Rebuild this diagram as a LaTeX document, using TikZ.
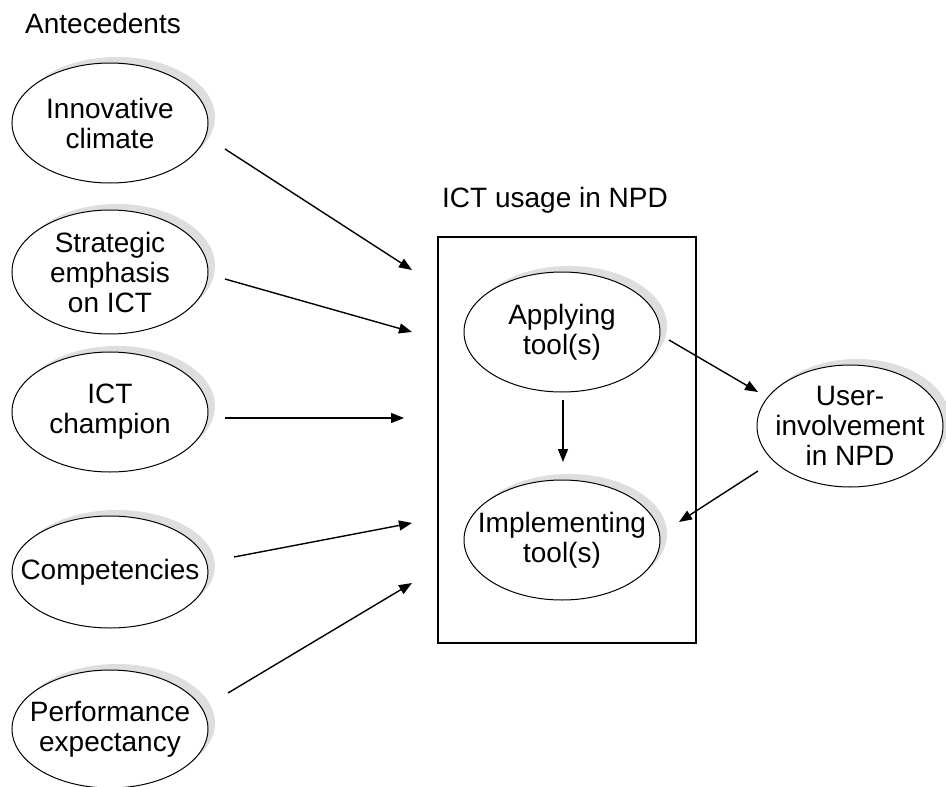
\documentclass[tikz,border=0pt]{standalone}
\usepackage{fontspec}
\setmainfont{Liberation Sans}
\usetikzlibrary{shapes.geometric,shadows,arrows.meta}
\begin{document}
\begin{tikzpicture}[x=1pt,y=-1pt,
  oval/.style={ellipse, draw, line width=1pt, fill=white, inner xsep=-70pt, inner ysep=-20pt,
    minimum width=196pt, minimum height=120pt, align=center,
    font=\fontsize{28}{30}\selectfont,
    drop shadow={shadow xshift=7pt, shadow yshift=6pt, fill=black!13, opacity=1}},
  lbl/.style={anchor=base west, inner sep=0pt, font=\fontsize{28}{30}\selectfont},
  arr/.style={line width=1.4pt, -{Triangle[length=13pt,width=10pt]}},
  frame/.style={draw, line width=1.3pt, inner sep=0pt}]
\useasboundingbox (0,0) rectangle (946,787);

\node[lbl] (ante) at (25,33) {Antecedents};
\node[lbl] (usage) at (442,207) {ICT usage in NPD};

\node[frame, minimum width=258pt, minimum height=406pt] (box) at (567,440) {};

\node[oval] (inn) at (110,123) {Innovative\\climate};
\node[oval, minimum height=124pt] (str) at (110,272) {Strategic\\emphasis\\on ICT};
\node[oval] (cha) at (110,412) {ICT\\champion};
\node[oval, minimum height=112pt] (com) at (110,572) {Competencies};
\node[oval, minimum height=118pt] (per) at (110,729) {Performance\\expectancy};

\node[oval] (app) at (562,332) {Applying\\tool(s)};
\node[oval] (imp) at (562,540) {Implementing\\tool(s)};
\node[oval, minimum width=186pt, minimum height=122pt] (usr) at (850,426) {User-\\involvement\\in NPD};

% free ends of connectors
\coordinate (s1) at (225,149); \coordinate (t1) at (412,270);
\coordinate (s2) at (225,279); \coordinate (t2) at (412,332);
\coordinate (s3) at (225,418); \coordinate (t3) at (404,418);
\coordinate (s4) at (234,557); \coordinate (t4) at (412,523);
\coordinate (s5) at (228,693); \coordinate (t5) at (412,583);
\coordinate (s6) at (669,340); \coordinate (t6) at (758,392);
\coordinate (s7) at (758,471); \coordinate (t7) at (679,522);
\coordinate (s8) at (563,400); \coordinate (t8) at (563,462);

\draw[arr] (s1) -- (t1);
\draw[arr] (s2) -- (t2);
\draw[arr] (s3) -- (t3);
\draw[arr] (s4) -- (t4);
\draw[arr] (s5) -- (t5);
\draw[arr] (s6) -- (t6);
\draw[arr] (s7) -- (t7);
\draw[arr] (s8) -- (t8);
\end{tikzpicture}
\end{document}
